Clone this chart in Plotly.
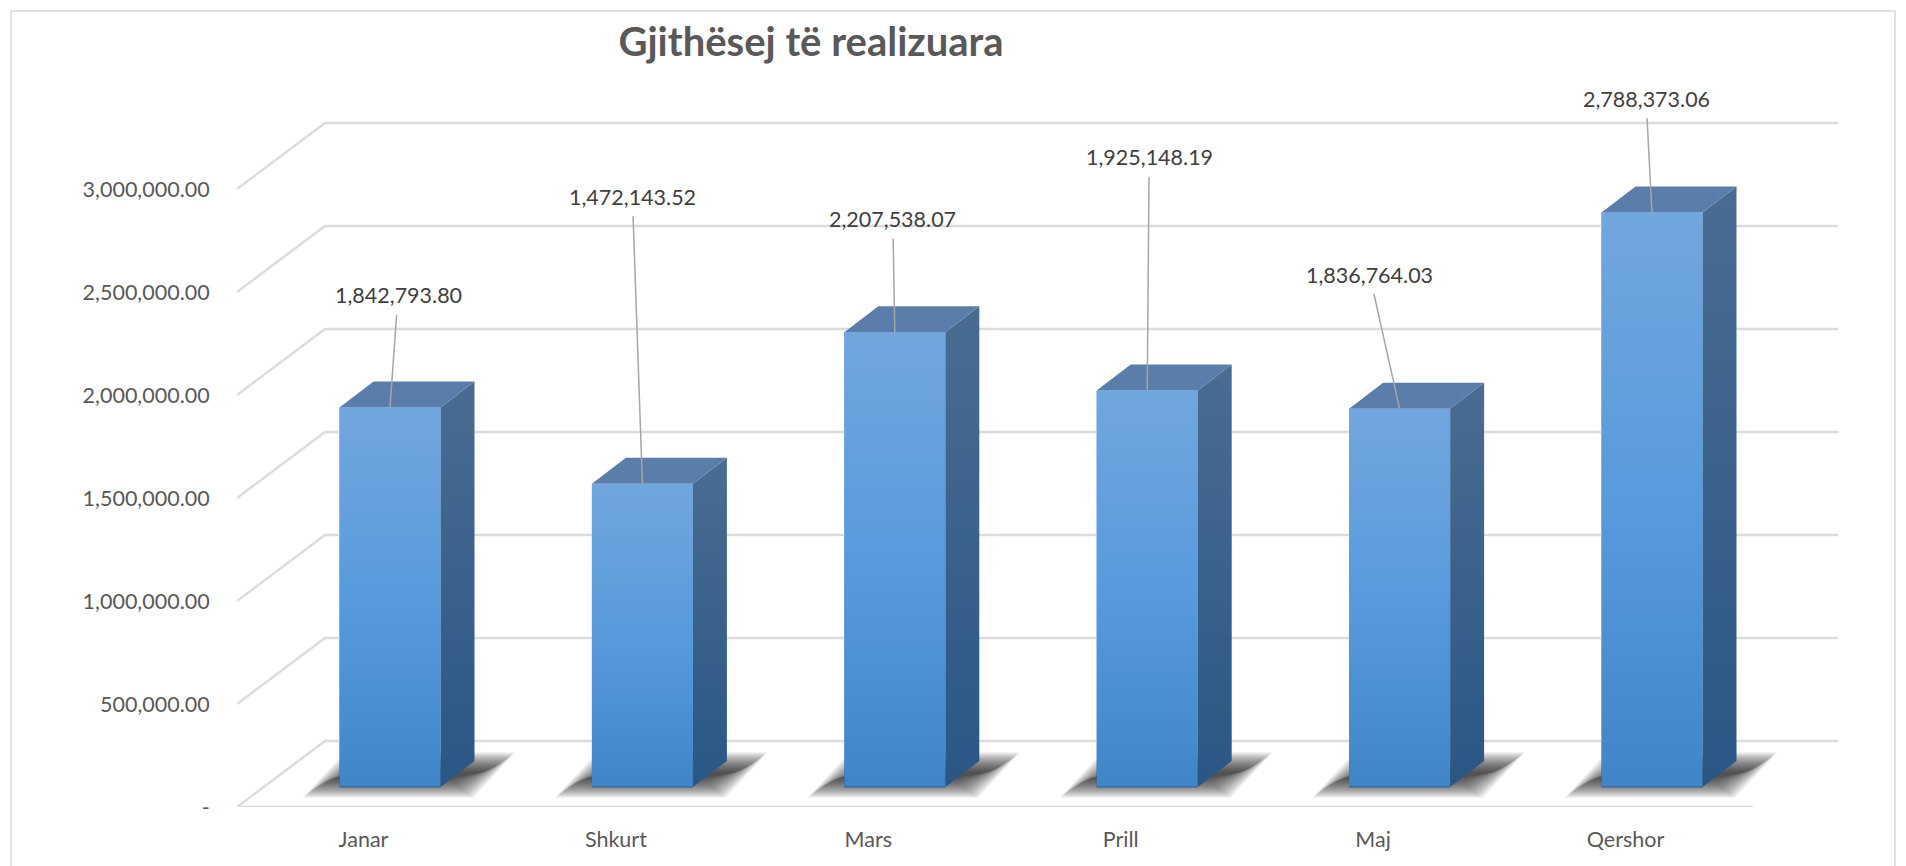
import plotly.graph_objects as go

# ---- data ----
months = ["Janar", "Shkurt", "Mars", "Prill", "Maj", "Qershor"]
realized = [1842793.80, 1472143.52, 2207538.07, 1925148.19, 1836764.03, 2788373.06]
value_ticks = [0, 500000, 1000000, 1500000, 2000000, 2500000, 3000000]
value_tick_labels = ["-", "500,000.00", "1,000,000.00", "1,500,000.00",
                     "2,000,000.00", "2,500,000.00", "3,000,000.00"]
data_labels = ["1,842,793.80", "1,472,143.52", "2,207,538.07",
               "1,925,148.19", "1,836,764.03", "2,788,373.06"]
title_text = "Gjithësej të realizuara"

# ---- layout constants (pixels) ----
W, H = 1906, 866
PLOT_L, PLOT_R, PLOT_T, PLOT_B = 237, 1838, 60, 807
PX_PER_CAT = 252.4
TICK0_PX = 363.5
PX_PER_UNIT = 103 / 500000.0
xu = lambda px: px / PX_PER_CAT      # pixel length -> category units
yu = lambda px: px / PX_PER_UNIT     # pixel length -> value units

BAR_SHIFT = xu(26.5)
BAR_W = xu(101)
BAR_BASE = yu(20)
DX, DY = xu(34), yu(26)
FLOOR_DX_L, FLOOR_DX_R, FLOOR_DY = xu(88), xu(85), yu(66)
# label offset from the bar's top centre, pixels
LABEL_AX = [8, -10, -2, 2, -30, -6]
LABEL_AY = [-112, -287, -113, -233, -134, -114]

x_min = (PLOT_L - TICK0_PX) / PX_PER_CAT
x_max = (PLOT_R - TICK0_PX) / PX_PER_CAT
y_max = (PLOT_B - PLOT_T) / PX_PER_UNIT
x_front_r = x_max - FLOOR_DX_R

FONT = "Lato"
fig = go.Figure()

# real bars (front faces; the gradient overlay paints on top of them)
fig.add_trace(go.Bar(x=[i + BAR_SHIFT for i in range(len(months))], y=realized,
                     base=BAR_BASE, width=BAR_W, marker=dict(color="#5B9BD5", line_width=0),
                     hoverinfo="skip", showlegend=False))

# grid: floor-style lines from the front edge to the back wall
gx, gy = [], []
for v in value_ticks:
    gx += [x_min, x_min + FLOOR_DX_L, x_max, None]
    gy += [v, v + FLOOR_DY, v + FLOOR_DY, None]
fig.add_trace(go.Scatter(x=gx, y=gy, mode="lines", line=dict(color="#DCDCDC", width=2.5),
                         cliponaxis=False, hoverinfo="skip", showlegend=False))
# front floor edge
fig.add_trace(go.Scatter(x=[x_min, x_front_r], y=[0, 0], mode="lines",
                         line=dict(color="#DCDCDC", width=2.5),
                         cliponaxis=False, hoverinfo="skip", showlegend=False))

# soft shadow: nested translucent parallelograms
STEPS = 24
for k in range(STEPS):
    e = 10 - 20.0 * k / (STEPS - 1)
    sx, sy = [], []
    for i in range(len(months)):
        x0 = i + BAR_SHIFT - BAR_W / 2
        x1 = x0 + BAR_W
        sx += [x0 - xu(24 + e * 1.3), x1 + xu(20 + e * 1.3), x1 + xu(62 + e * 1.3),
               x0 + xu(18 - e * 1.3), x0 - xu(24 + e * 1.3), None]
        sy += [BAR_BASE - yu(1 + e), BAR_BASE - yu(1 + e), BAR_BASE + yu(25 + e),
               BAR_BASE + yu(25 + e), BAR_BASE - yu(1 + e), None]
    fig.add_trace(go.Scatter(x=sx, y=sy, mode="none", fill="toself",
                             fillcolor="rgba(0,0,0,0.045)", hoverinfo="skip", showlegend=False))

# 3-D faces
for i, v in enumerate(realized):
    x0 = i + BAR_SHIFT - BAR_W / 2
    x1 = x0 + BAR_W
    top = BAR_BASE + v
    fig.add_trace(go.Scatter(
        x=[x1, x1 + DX, x1 + DX, x1, x1], y=[BAR_BASE, BAR_BASE + DY, top + DY, top, BAR_BASE],
        mode="none", fill="toself",
        fillgradient=dict(type="vertical", colorscale=[[0, "#295785"], [1, "#4A6C92"]]),
        hoverinfo="skip", showlegend=False))
    fig.add_trace(go.Scatter(
        x=[x0, x1, x1 + DX, x0 + DX, x0], y=[top, top, top + DY, top + DY, top],
        mode="none", fill="toself", fillcolor="#5A7EA9", hoverinfo="skip", showlegend=False))
    fig.add_trace(go.Scatter(
        x=[x0, x1, x1, x0, x0], y=[BAR_BASE, BAR_BASE, top, top, BAR_BASE],
        mode="none", fill="toself",
        fillgradient=dict(type="vertical",
                          colorscale=[[0, "#3F85C8"], [0.45, "#5599DC"], [1, "#71A6DE"]]),
        hoverinfo="skip", showlegend=False))
    fig.add_trace(go.Scatter(x=[x0, x1], y=[BAR_BASE, BAR_BASE], mode="lines",
                             line=dict(color="#2E5F90", width=1.2),
                             hoverinfo="skip", showlegend=False))

# leader-line data labels
annos = []
for i, v in enumerate(realized):
    annos.append(dict(x=i + BAR_SHIFT, y=BAR_BASE + v, xref="x", yref="y",
                      text=data_labels[i], showarrow=True, arrowhead=0,
                      arrowcolor="#A6A6A6", arrowwidth=1.5, startstandoff=5,
                      ax=LABEL_AX[i], ay=LABEL_AY[i], axref="pixel", ayref="pixel",
                      font=dict(family=FONT, size=21.5, color="#404040")))

fig.update_layout(
    width=W, height=H, autosize=False,
    margin=dict(l=PLOT_L, r=W - PLOT_R, t=PLOT_T, b=H - PLOT_B, pad=0),
    paper_bgcolor="white", plot_bgcolor="rgba(0,0,0,0)",
    showlegend=False, barmode="overlay", hovermode=False,
    title=dict(text="<b>%s</b>" % title_text, x=811 / W, xanchor="center", y=1 - 42 / H,
               yanchor="middle", font=dict(family=FONT, size=40, color="#595959")),
    xaxis=dict(range=[x_min, x_max], tickmode="array", tickvals=list(range(len(months))),
               ticktext=months, showgrid=False, zeroline=False, showline=False,
               ticks="outside", ticklen=13, tickcolor="rgba(0,0,0,0)",
               tickfont=dict(family=FONT, size=21.5, color="#595959")),
    yaxis=dict(range=[0, y_max], tickmode="array", tickvals=value_ticks,
               ticktext=value_tick_labels, showgrid=False, zeroline=False, showline=False,
               ticks="outside", ticklen=22, tickcolor="rgba(0,0,0,0)",
               tickfont=dict(family=FONT, size=21.5, color="#595959")),
    annotations=annos,
    shapes=[dict(type="rect", xref="paper", yref="paper", layer="below",
                 x0=(11 - PLOT_L) / (PLOT_R - PLOT_L), x1=(1895 - PLOT_L) / (PLOT_R - PLOT_L),
                 y0=(PLOT_B - 880) / (PLOT_B - PLOT_T), y1=(PLOT_B - 11) / (PLOT_B - PLOT_T),
                 line=dict(color="#D9D9D9", width=1.5), fillcolor="rgba(0,0,0,0)")],
)

fig.write_html("out.html", config={"displayModeBar": False},
               post_script="document.body.style.margin='0';document.body.style.overflow='hidden';")
